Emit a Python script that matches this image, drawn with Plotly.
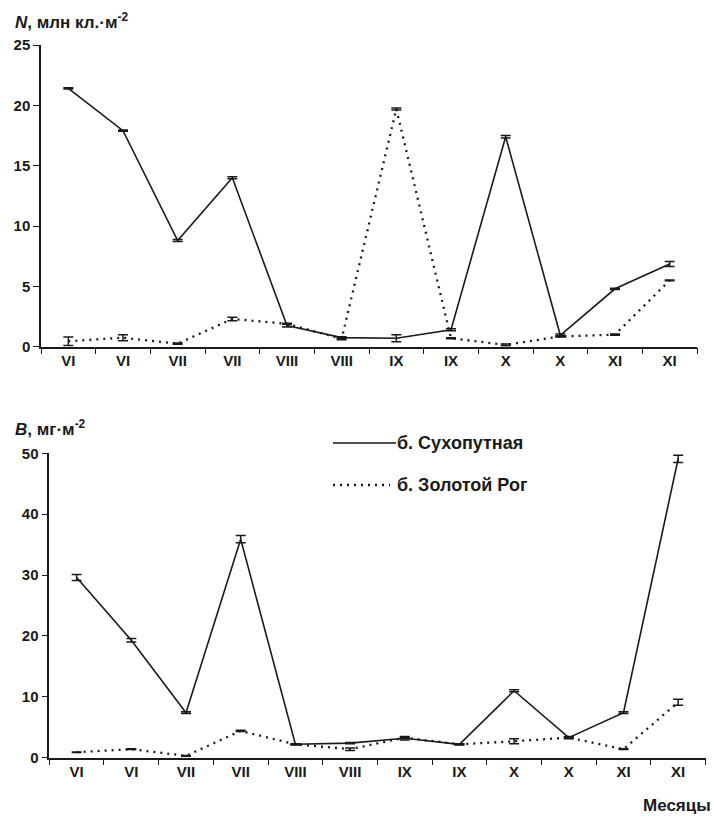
import plotly.graph_objects as go

months = ["VI", "VI", "VII", "VII", "VIII", "VIII", "IX", "IX", "X", "X", "XI", "XI"]

# N, млн кл.·м-2
n_sukh = [21.4, 17.9, 8.8, 14.0, 1.75, 0.75, 0.7, 1.4, 17.4, 0.95, 4.8, 6.85]
n_sukh_err = [0.05, 0.05, 0.08, 0.08, 0.12, 0.08, 0.3, 0.08, 0.1, 0.1, 0.05, 0.2]
n_zol = [0.45, 0.75, 0.25, 2.3, 1.9, 0.65, 19.7, 0.7, 0.15, 0.85, 1.0, 5.5]
n_zol_err = [0.35, 0.25, 0.05, 0.15, 0.05, 0.08, 0.08, 0.05, 0.08, 0.05, 0.05, 0.03]

# B, мг·м-2
b_sukh = [29.6, 19.3, 7.4, 35.9, 2.2, 2.4, 3.2, 2.2, 11.0, 3.3, 7.4, 49.1]
b_sukh_err = [0.5, 0.3, 0.15, 0.6, 0.1, 0.1, 0.3, 0.1, 0.15, 0.2, 0.15, 0.6]
b_zol = [0.9, 1.4, 0.3, 4.4, 2.2, 1.4, 3.3, 2.2, 2.7, 3.3, 1.4, 9.1]
b_zol_err = [0.05, 0.05, 0.05, 0.1, 0.05, 0.2, 0.1, 0.05, 0.4, 0.1, 0.05, 0.5]

x = list(range(len(months)))
ink = "#1a1a1a"
FONT = "Liberation Sans, Arial, sans-serif"
DOT = "2px,5px"

fig = go.Figure()

def add_series(xa, ya, y, err, dash, width):
    fig.add_trace(go.Scatter(
        x=x, y=y, xaxis=xa, yaxis=ya, mode="lines",
        line=dict(color=ink, width=width, dash=dash),
        error_y=dict(type="data", array=err, visible=True, color=ink, thickness=1.5, width=5),
        showlegend=False, hoverinfo="skip"))

add_series("x", "y", n_sukh, n_sukh_err, "solid", 1.6)
add_series("x", "y", n_zol, n_zol_err, DOT, 2.3)
add_series("x2", "y2", b_sukh, b_sukh_err, "solid", 1.6)
add_series("x2", "y2", b_zol, b_zol_err, DOT, 2.3)

H, W = 817, 714
tickfont = dict(family=FONT, size=15, color=ink, weight="bold")

def xaxis(dom, anchor):
    return dict(domain=dom, anchor=anchor, range=[-0.5, 11.5], tickmode="array",
                tickvals=x, ticktext=months, ticks="", showline=True, linecolor=ink,
                linewidth=1.5, showgrid=False, zeroline=False, tickfont=tickfont,
                automargin=False,
                minor=dict(tickmode="linear", tick0=-0.5, dtick=1, ticks="outside",
                           ticklen=6, tickwidth=1.3, tickcolor=ink, showgrid=False))

def yaxis(dom, anchor, rng, dt):
    return dict(domain=dom, anchor=anchor, range=rng, dtick=dt, ticks="outside",
                ticklen=6, tickwidth=1.3, tickcolor=ink, showline=True, linecolor=ink,
                linewidth=1.5, showgrid=False, zeroline=False, tickfont=tickfont,
                automargin=False)

fig.update_layout(
    template="none",
    width=W, height=H, margin=dict(l=0, r=0, t=0, b=0, pad=0, autoexpand=False),
    paper_bgcolor="white", plot_bgcolor="white",
    xaxis=xaxis([41 / W, 697 / W], "y"),
    yaxis=yaxis([(H - 346.7) / H, (H - 45) / H], "x", [0, 25], 5),
    xaxis2=xaxis([49.3 / W, 705.5 / W], "y2"),
    yaxis2=yaxis([(H - 757.7) / H, (H - 453.3) / H], "x2", [0, 50], 10),
)

def ann(text, px, py, size=15, xanchor="left"):
    fig.add_annotation(text=text, x=px / W, y=(H - py) / H, xref="paper", yref="paper",
                       xanchor=xanchor, yanchor="middle", showarrow=False,
                       font=dict(family=FONT, size=size, color=ink, weight="bold"))

ann("<i>N</i>, млн кл.·м<sup>-2</sup>", 13, 21, size=17)
ann("<i>B</i>, мг·м<sup>-2</sup>", 13, 428, size=17)
ann("Месяцы", 713, 805, size=17, xanchor="right")
ann("б. Сухопутная", 395, 443, size=18)
ann("б. Золотой Рог", 395, 485, size=18)

fig.add_shape(type="line", xref="paper", yref="paper", x0=333 / W, x1=396 / W,
              y0=(H - 443) / H, y1=(H - 443) / H, line=dict(color=ink, width=1.6))
fig.add_shape(type="line", xref="paper", yref="paper", x0=333 / W, x1=390 / W,
              y0=(H - 485) / H, y1=(H - 485) / H, line=dict(color=ink, width=2.3, dash=DOT))

fig.write_html("out.html", config={"displayModeBar": False},
               post_script="document.body.style.margin='0';")
